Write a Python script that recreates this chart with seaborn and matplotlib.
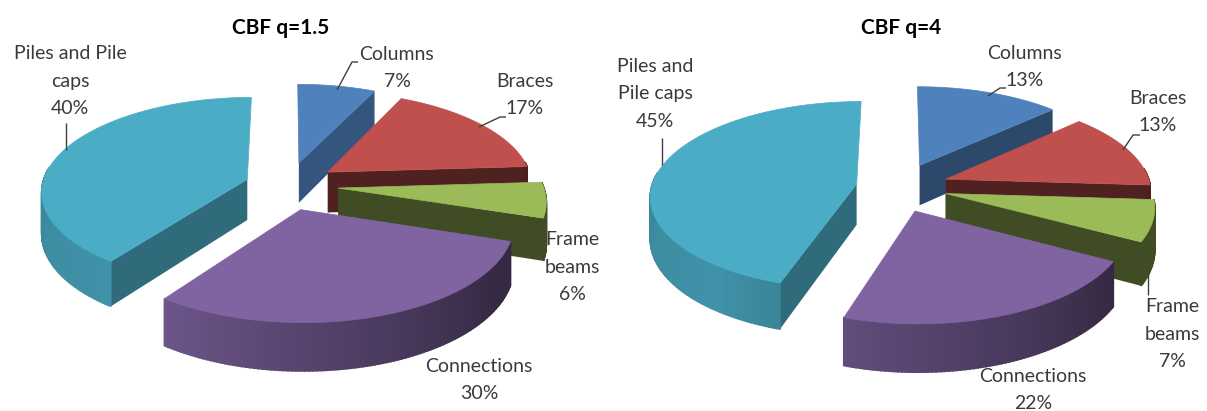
import numpy as np
import matplotlib
matplotlib.use("Agg")
import matplotlib.pyplot as plt
from matplotlib.patches import Polygon
import seaborn as sns

categories = ["Columns", "Braces", "Frame\nbeams", "Connections", "Piles and Pile\ncaps"]
categories_right = ["Columns", "Braces", "Frame\nbeams", "Connections", "Piles and\nPile caps"]
shares_q15 = [7, 17, 6, 30, 40]
shares_q4 = [13, 13, 7, 22, 45]
titles = ["CBF q=1.5", "CBF q=4"]

sns.set_theme(style="white")
plt.rcParams["font.family"] = ["Lato", "DejaVu Sans"]
palette = sns.color_palette(["#4F81BD", "#C0504D", "#9BBB59", "#8064A2", "#4BACC6"])
face_dark = [0.66, 0.41, 0.41, 0.5, 0.62]
draw_order = [0, 1, 2, 4, 3]
TEXT = "#3a3a3a"


def shade(color, f):
    return tuple(min(1, c * f) for c in color)


def wall_factor(theta):
    return np.interp(theta, [90, 125, 216, 300], [0.40, 0.42, 0.85, 0.76])


def draw_pie(ax, shares, cx, cy, rx, ry, depth, k, explode, nudge, face=face_dark):
    edges = np.cumsum([0] + list(shares)) * 3.6
    for i in draw_order:
        def project(x, y, z=0.0):
            s = 1.0 / (1.0 + k * y)
            return cx + nudge[i] + rx * x * s, cy - ry * y * s + depth * z * s

        t0, t1 = edges[i], edges[i + 1]
        mid = np.radians((t0 + t1) / 2)
        ox, oy = explode[i] * np.sin(mid), explode[i] * np.cos(mid)
        thetas = np.linspace(t0, t1, max(8, int(t1 - t0)))
        rad = np.radians(thetas)
        px, py = ox + np.sin(rad), oy + np.cos(rad)
        col = palette[i]

        # cut faces that turn toward the viewer
        for edge, visible in ((t1, np.sin(np.radians(t1)) > 1e-6), (t0, np.sin(np.radians(t0)) < -1e-6)):
            if visible:
                ex, ey = ox + np.sin(np.radians(edge)), oy + np.cos(np.radians(edge))
                quad = [project(ox, oy), project(ex, ey), project(ex, ey, 1), project(ox, oy, 1)]
                ax.add_patch(Polygon(quad, closed=True, fc=shade(col, face[i]), ec="none", zorder=2))

        # rim, built from thin strips so the shading runs along the arc
        for j in range(len(thetas) - 1):
            if np.cos(rad[j]) > 0.12:
                continue
            quad = [project(px[j], py[j]), project(px[j + 1], py[j + 1]),
                    project(px[j + 1], py[j + 1], 1), project(px[j], py[j], 1)]
            c = shade(col, wall_factor((thetas[j] + thetas[j + 1]) / 2))
            ax.add_patch(Polygon(quad, closed=True, fc=c, ec=c, lw=1.2, zorder=2))

        # top surface
        top = [project(ox, oy)] + [project(a, b) for a, b in zip(px, py)]
        ax.add_patch(Polygon(top, closed=True, fc=col, ec=col, lw=0.5, zorder=2))


def label(ax, x, y, s):
    ax.text(x, y, s, ha="center", va="center", fontsize=14, color=TEXT,
            linespacing=1.72, zorder=5)


def leader(ax, xs, ys):
    ax.plot(xs, ys, color="#3f3f3f", lw=1.0, zorder=4, solid_capstyle="butt")


fig = plt.figure(figsize=(12.07, 4.11), dpi=100, facecolor="white")
ax = fig.add_axes([0, 0, 1, 1])
ax.set_xlim(0, 1207)
ax.set_ylim(411, 0)
ax.axis("off")

draw_pie(ax, shares_q15, 283, 185, 205, 93, 41, 0.12, [0.25, 0.25, 0.26, 0.27, 0.20],
         [5, 3, 2, 0, 3])
draw_pie(ax, shares_q4, 895, 187, 205, 93, 41, 0.12, [0.26, 0.25, 0.25, 0.27, 0.21],
         [4, 3, 1, -1, 4], face=[0.56, 0.41, 0.41, 0.5, 0.62])

ax.text(281, 28, titles[0], ha="center", va="center", fontsize=15, fontweight="bold", color="black")
ax.text(901, 28, titles[1], ha="center", va="center", fontsize=15, fontweight="bold", color="black")

left_pos = [(397, 68), (525, 95), (572, 267), (479, 380), (70, 81)]
right_pos = [(1025, 67), (1158, 112), (1172, 334), (1033, 390), (655, 94)]
for name, share, (x, y) in zip(categories, shares_q15, left_pos):
    label(ax, x, y, f"{name}\n{share}%")
for name, share, (x, y) in zip(categories_right, shares_q4, right_pos):
    label(ax, x, y, f"{name}\n{share}%")

leader(ax, [337, 352, 358], [90, 62, 62])
leader(ax, [479, 500, 506], [127, 117, 117])
leader(ax, [66, 66], [150, 123])
leader(ax, [988, 1000, 1006], [96, 88, 88])
leader(ax, [1123, 1133, 1140], [150, 135, 135])
leader(ax, [1148, 1148], [267, 295])
leader(ax, [662, 662], [165, 138])

fig.savefig("out.png", dpi=100, facecolor="white")
